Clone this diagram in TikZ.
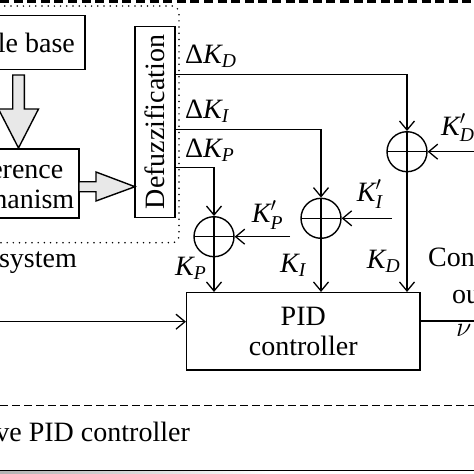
\documentclass[tikz,border=0pt]{standalone}
\usepackage{fix-cm}
\usepackage{amsmath}
\usepackage{fontspec}
\setmainfont{Liberation Serif}
\usetikzlibrary{arrows.meta, calc}
\tikzset{
x=1pt, y=-1pt, % one unit per pixel, y going down
>={Straight Barb[length=9pt, width=15pt]}, % open arrow heads
block/.style={draw, line width=1.4pt, inner sep=0pt, align=center}, % boxes
summer/.style={circle, draw, line width=1.4pt, minimum size=40pt, inner sep=0pt,
  path picture={\draw[line width=1.3pt] (path picture bounding box.north) -- (path picture bounding box.south)
    (path picture bounding box.west) -- (path picture bounding box.east);}}, % summing junctions
sig/.style={->, line width=1.3pt}, % signal lines
fat/.style={draw, line width=1.4pt, fill=gray!18, line join=miter}, % block arrows
lbl/.style={anchor=base west, inner sep=0pt}, % signal names
boundary/.style={line width=1.7pt, line cap=round, dash pattern=on 0pt off 6.2pt}, % fuzzy system frame
topline/.style={line width=3.3pt, dash pattern=on 9pt off 4.6pt},
sepline/.style={line width=1.2pt, dash pattern=on 8pt off 4pt},
}
\begin{document}
\begin{tikzpicture}[font=\fontsize{28}{30}\selectfont]
    \useasboundingbox (0,0) rectangle (474,474);
    \clip (0,0) rectangle (474,474);

    % fuzzy system
    \node[block, minimum width=130pt, minimum height=53.6pt] (rule) at (20,42.5) {Rule base};
    \node[block, minimum width=137pt, minimum height=69pt] (inf) at (10.5,183.5) {Inference\\mechanism};
    \node[block, minimum width=40pt, minimum height=190.6pt] (defuzz) at (155,122) {};
    \node[rotate=90, inner sep=0pt] (defuzztext) at (defuzz.center) {Defuzzification};
    \draw[fat] (12.7,75) -- (24.3,75) -- (24.3,109) -- (38.5,109) -- (18.5,148) -- (-1.5,109) -- (12.7,109) -- cycle;
    \draw[fat] (79,181.7) -- (96,181.7) -- (96,172) -- (135,186.7) -- (96,201) -- (96,191.7) -- (79,191.7) -- cycle;
    \draw[boundary, rounded corners=7pt] (-20,6) -| (179,242.7) -- (-20,242.7);
    \node[anchor=base east, inner sep=0pt] (fuzzy) at (77,267) {Fuzzy system};

    % gain corrections
    \node[summer] (sumD) at (407,151.7) {};
    \node[summer] (sumI) at (321,218.3) {};
    \node[summer] (sumP) at (214,236.7) {};
    \node[block, minimum width=233.3pt, minimum height=77.3pt] (pid) at (303.3,331.3) {PID\\controller};

    \draw[sig] (defuzz.east |- 0,74.5) -| (sumD);
    \draw[sig] (defuzz.east |- 0,129.3) -| (sumI);
    \draw[sig] (defuzz.east |- 0,167.7) -| (sumP);
    \node[lbl] (dKD) at (185,63.3) {Δ$\textit{K}_{\textit{D}}$};
    \node[lbl] (dKI) at (185,118.3) {Δ$\textit{K}_{\textit{I}}$};
    \node[lbl] (dKP) at (185,157) {Δ$\textit{K}_{\textit{P}}$};

    \coordinate (kD) at (480,151.7);
    \coordinate (kI) at (391.7,218.3);
    \coordinate (kP) at (290,236.7);
    \draw[sig] (kD) -- (sumD);
    \draw[sig] (kI) -- (sumI);
    \draw[sig] (kP) -- (sumP);
    \node[lbl] (kDlbl) at (441,135) {$\textit{K}'_{\textit{D}}$};
    \node[lbl] (kIlbl) at (356.7,201.7) {$\textit{K}'_{\textit{I}}$};
    \node[lbl] (kPlbl) at (251.7,222.7) {$\textit{K}'_{\textit{P}}$};

    \draw[sig] (sumP) -- (sumP |- pid.north);
    \draw[sig] (sumI) -- (sumI |- pid.north);
    \draw[sig] (sumD) -- (sumD |- pid.north);
    \node[lbl] (KP) at (175,275) {$\textit{K}_{\textit{P}}$};
    \node[lbl] (KI) at (280,272.3) {$\textit{K}_{\textit{I}}$};
    \node[lbl] (KD) at (366.7,268.3) {$\textit{K}_{\textit{D}}$};

    % plant side
    \coordinate (u) at (-5,321.7);
    \coordinate (y) at (480,321);
    \draw[sig] (u) -- (u -| pid.west);
    \draw[line width=1.3pt] (pid.east |- y) -- (y);
    \node[lbl] (ctrl) at (428,266.7) {Control};
    \node[lbl] (outp) at (452,303.3) {output};
    \node[lbl] (nu) at (456,336.7) {$\nu$};

    % frames
    \draw[topline] (0,1.6) -- (474,1.6);
    \draw[sepline] (0,405.3) -- (474,405.3);
    \node[anchor=base east, inner sep=0pt] (adapt) at (190,441.7) {Adaptive PID controller};
    \shade[left color=gray!60, right color=white] (0,471.5) rectangle (270,474);
    \draw[line width=1.6pt] (0,470.5) -- (474,470.5);
\end{tikzpicture}
\end{document}
